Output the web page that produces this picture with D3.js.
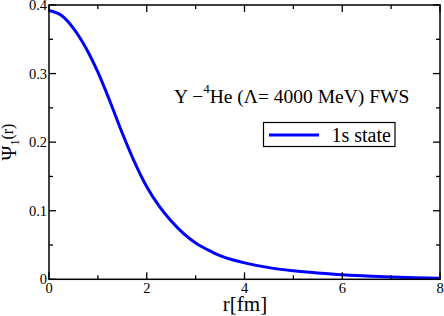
<!DOCTYPE html>
<html>
<head>
<meta charset="utf-8">
<script src="https://cdn.jsdelivr.net/npm/d3@7"></script>
</head>
<body style="margin:0;background:#fff">
<svg id="chart" width="444" height="316" style="display:block"></svg>
<script>
const rValues = [0, 0.25, 0.5, 0.75, 1.0, 1.25, 1.5, 1.75, 2.0, 2.25, 2.5, 2.75, 3.0, 3.25, 3.5, 3.75, 4.0, 4.5, 5.0, 5.5, 6.0, 6.5, 7.0, 7.5, 8.0];
const psiValues = [0.392, 0.385, 0.366, 0.338, 0.302, 0.259, 0.213, 0.171, 0.135, 0.107, 0.085, 0.067, 0.053, 0.043, 0.0345, 0.0285, 0.024, 0.017, 0.0125, 0.0092, 0.0065, 0.0048, 0.0034, 0.0024, 0.0016];
const xMajorTicks = [0, 2, 4, 6, 8];
const xMinorTicks = [1, 3, 5, 7];
const yMajorTicks = [0, 0.1, 0.2, 0.3, 0.4];
const yMinorTicks = [0.05, 0.15, 0.25, 0.35];
const yTickLabels = ["0", "0.1", "0.2", "0.3", "0.4"];
const seriesName = "1s state";

const svg = d3.select("#chart");
const T = (sel) => sel.append("text").style("font-family", '"Liberation Serif"').attr("fill", "#000");
const pL = 49, pR = 440, pT = 5, pB = 279.3;
const x = d3.scaleLinear().domain([0, 8]).range([pL, pR]);
const y = d3.scaleLinear().domain([0, 0.4]).range([pB, pT]);

const data = rValues.map((r, i) => ({ r, v: psiValues[i] }));

// curve
svg.append("path")
  .datum(data)
  .attr("fill", "none")
  .attr("stroke", "#0000ff")
  .attr("stroke-width", 3)
  .attr("d", d3.line().x(d => x(d.r)).y(d => y(d.v)).curve(d3.curveMonotoneX));

// frame
svg.append("rect")
  .attr("x", pL).attr("y", pT)
  .attr("width", pR - pL).attr("height", pB - pT)
  .attr("fill", "none").attr("stroke", "#000").attr("stroke-width", 1.5);

const major = 7, minor = 4;
const g = svg.append("g").attr("stroke", "#000").attr("stroke-width", 1.3);
xMajorTicks.forEach(t => {
  g.append("line").attr("x1", x(t)).attr("x2", x(t)).attr("y1", pB).attr("y2", pB - major);
  g.append("line").attr("x1", x(t)).attr("x2", x(t)).attr("y1", pT).attr("y2", pT + major);
});
xMinorTicks.forEach(t => {
  g.append("line").attr("x1", x(t)).attr("x2", x(t)).attr("y1", pB).attr("y2", pB - minor);
  g.append("line").attr("x1", x(t)).attr("x2", x(t)).attr("y1", pT).attr("y2", pT + minor);
});
yMajorTicks.forEach(t => {
  g.append("line").attr("y1", y(t)).attr("y2", y(t)).attr("x1", pL).attr("x2", pL + major);
  g.append("line").attr("y1", y(t)).attr("y2", y(t)).attr("x1", pR).attr("x2", pR - major);
});
yMinorTicks.forEach(t => {
  g.append("line").attr("y1", y(t)).attr("y2", y(t)).attr("x1", pL).attr("x2", pL + minor);
  g.append("line").attr("y1", y(t)).attr("y2", y(t)).attr("x1", pR).attr("x2", pR - minor);
});

// tick labels
xMajorTicks.forEach(t => {
  T(svg).attr("x", x(t)).attr("y", pB + 14)
    .attr("text-anchor", "middle").attr("font-size", 14.5).text(String(t));
});
yMajorTicks.forEach((t, i) => {
  T(svg).attr("x", pL - 2).attr("y", y(t) + 5)
    .attr("text-anchor", "end").attr("font-size", 14.5).text(yTickLabels[i]);
});

// axis titles
T(svg).attr("x", 245).attr("y", 311)
  .attr("text-anchor", "middle").attr("font-size", 21).text("r[fm]");

const yt = T(svg)
  .attr("transform", "translate(16,142) rotate(-90)")
  .attr("text-anchor", "middle").attr("font-size", 20);
yt.append("tspan").text("Ψ");
yt.append("tspan").attr("font-size", 12).attr("dy", 3).text("1");
yt.append("tspan").attr("font-size", 16).attr("dy", -6).text("(r)");

// annotation
const ann = T(svg).attr("x", 174).attr("y", 103).attr("font-size", 19.5);
ann.append("tspan").text("Y −");
ann.append("tspan").attr("font-size", 13).attr("dy", -10).text("4");
ann.append("tspan").attr("dy", 10).text("He (Λ= 4000 MeV) FWS");

// legend
svg.append("rect").attr("x", 263.5).attr("y", 122.5).attr("width", 131.5).attr("height", 24)
  .attr("fill", "#fff").attr("stroke", "#000").attr("stroke-width", 1.2);
svg.append("line").attr("x1", 269).attr("x2", 319).attr("y1", 135).attr("y2", 135)
  .attr("stroke", "#0000ff").attr("stroke-width", 3);
T(svg).attr("x", 331.5).attr("y", 142).attr("font-size", 20).text(seriesName);
</script>
</body>
</html>
